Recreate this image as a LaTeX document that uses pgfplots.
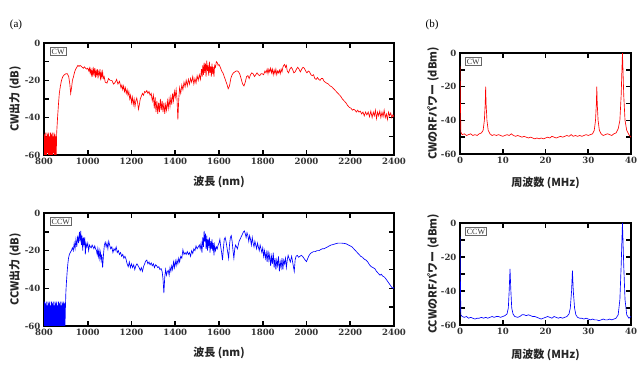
\documentclass[border=0pt]{standalone}
\usepackage{fontspec}
\usepackage{pgfplots}
\pgfplotsset{compat=1.18}
\setmainfont{Liberation Serif}
\newfontfamily\jp{Noto Sans CJK JP}
\newfontfamily\tickfont{DejaVu Serif}
\tikzset{tag/.style={draw=black!60, line width=0.7pt, inner sep=1.4pt, font=\fontsize{8}{8}\selectfont, text=black!80, anchor=north west}}
\pgfplotsset{
  myax/.style={
    scale only axis,
    axis line style={line width=2pt},
    tick style={line width=1.6pt, black},
    major tick length=5pt, minor tick length=5pt,
    tick align=inside,
    tick pos=both,
    ymin=-60, ymax=0, ytick={-60,-40,-20,0}, minor y tick num=1,
    tick label style={font=\tickfont\bfseries\fontsize{8.6}{10}\selectfont, text=black!80},
    /pgf/number format/assume math mode=true,
    /pgf/number format/1000 sep={},
    scaled ticks=false,
    label style={font=\jp\bfseries\fontsize{11}{13}\selectfont, text=black!85},
    ylabel style={rotate=0, anchor=center},
    xlabel style={anchor=center},
    clip=true,
  },
  spec/.style={myax, width=350pt, xmin=800, xmax=2400, xtick={800,1000,...,2400}, xlabel={波長 (nm)},
    ylabel style={at={(axis description cs:-0.083,0.5)}}},
  rf/.style={myax, width=171pt, xmin=0, xmax=40, xtick={0,10,20,30,40}, xlabel={周波数 (MHz)},
    ylabel style={at={(axis description cs:-0.158,0.5)}}},
}
\begin{document}
\begin{tikzpicture}
\useasboundingbox (0,0) rectangle (642pt,369pt);
% ---------------- (a) CW spectrum
\begin{axis}[spec, height=112pt, at={(44pt,214pt)}, anchor=south west, ylabel={CW出力 (dB)},
  xlabel style={at={(axis description cs:0.5,-0.241)}}]
\addplot[red, line width=0.65pt] coordinates {
(800,-60)(802,-49)(804,-60)(806,-48)(808,-60)(810,-50)(812,-60)(814,-48)(816,-59)(818,-49)
(820,-60)(822,-48)(824,-60)(826,-50)(828,-60)(830,-48)(832,-60)(834,-49)(836,-60)(838,-48)
(840,-60)(842,-50)(844,-59)(846,-48)(848,-60)(850,-49)(852,-60)(854,-50)(856,-60)(858,-48)
(862,-40)(866,-33)(870,-27)(875,-23)(880,-20)(886,-18)(893,-17)(900,-16.5)(907,-16.5)(913,-18)
(918,-22)(922,-27)(926,-24)(930,-20)(935,-18)(940,-15.5)(945,-14)(950,-13)(955,-12)(960,-12.5)
(965,-12)(970,-12.5)(975,-13)(980,-13.5)(985,-12.8)(990,-13.5)(995,-14)(1000,-13.5)(1005,-15)(1008,-13.5)
(1011,-16)(1014,-14)(1017,-17)(1020,-14.5)(1023,-18)(1026,-14)(1029,-16.5)(1032,-13.5)(1035,-18.5)(1038,-15)
(1041,-17)(1044,-14)(1047,-19)(1050,-15.5)(1053,-17)(1056,-14)(1059,-20)(1062,-16)(1065,-18)(1068,-15.5)
(1071,-19)(1075,-18)(1080,-21)(1088,-21.5)(1095,-19)(1102,-20)(1110,-20)(1118,-22)(1126,-21)(1132,-19.5)
(1138,-22)(1145,-20.5)(1152,-24)(1156,-22.5)(1160,-25)(1164,-23)(1168,-26)(1172,-24)(1176,-27)(1180,-25)
(1184,-28)(1188,-26)(1192,-30)(1196,-28)(1200,-32)(1204,-29)(1208,-33)(1212,-30)(1216,-34)(1220,-31)
(1224,-29.5)(1228,-32)(1232,-35.5)(1236,-33)(1240,-30)(1245,-28.5)(1250,-27)(1255,-28)(1260,-26)(1265,-26.5)
(1270,-25.5)(1275,-27)(1280,-26)(1285,-28)(1290,-27)(1295,-31)(1300,-28)(1304,-35)(1308,-29)(1312,-37)
(1316,-31)(1320,-38)(1324,-32)(1328,-37)(1332,-30)(1336,-36)(1340,-31)(1344,-37)(1348,-32)(1352,-38)
(1356,-33)(1360,-36)(1364,-31)(1368,-35)(1372,-30)(1376,-34)(1380,-29)(1384,-33)(1388,-27)(1392,-31)
(1396,-26)(1400,-29)(1404,-25)(1408,-30)(1412,-41)(1416,-30)(1420,-24)(1425,-27)(1430,-22.5)(1435,-25)
(1440,-21)(1445,-23.5)(1450,-20)(1455,-23)(1460,-19.5)(1465,-22)(1470,-19)(1475,-21)(1480,-18)(1485,-22)
(1490,-19)(1495,-21.5)(1500,-17.5)(1505,-20)(1510,-17)(1515,-19.5)(1520,-14)(1523,-18)(1526,-12)(1529,-17)
(1532,-10.5)(1535,-16)(1538,-11)(1541,-18)(1544,-9.5)(1547,-15)(1550,-12)(1553,-17.5)(1556,-10)(1559,-16)
(1562,-12.5)(1565,-18)(1568,-11)(1571,-16.5)(1574,-13)(1577,-18)(1580,-12)(1584,-13)(1588,-10)(1592,-10.5)
(1596,-12)(1600,-11.5)(1606,-13)(1612,-15)(1618,-16)(1624,-18)(1630,-20)(1636,-22)(1642,-24.5)(1648,-23)
(1654,-19)(1660,-17)(1666,-16)(1672,-15.5)(1678,-15)(1684,-15)(1690,-15.5)(1696,-17)(1702,-19.5)(1708,-22)
(1714,-23)(1720,-21)(1726,-18)(1732,-17.5)(1738,-19)(1744,-17)(1750,-16)(1756,-16.5)(1762,-18)(1768,-17)
(1774,-16)(1780,-17)(1786,-17.5)(1792,-16.5)(1798,-16.5)(1804,-17)(1810,-15)(1815,-16)(1820,-14)(1824,-16.5)
(1828,-14)(1832,-15.5)(1836,-13.5)(1840,-16)(1844,-14)(1848,-17)(1852,-14.5)(1856,-16.5)(1860,-14)(1864,-17)
(1868,-15)(1872,-16)(1876,-14.5)(1880,-16.5)(1884,-14)(1888,-15.5)(1892,-13)(1896,-12)(1900,-11.5)(1904,-13)
(1908,-12)(1912,-15)(1918,-16)(1924,-14)(1930,-13)(1936,-14)(1942,-16)(1948,-15.5)(1954,-14)(1960,-13)
(1966,-14)(1972,-15.5)(1978,-14)(1984,-13)(1990,-13.5)(1996,-15)(2002,-16)(2008,-15)(2014,-15.5)(2020,-17)
(2026,-17.5)(2032,-17)(2038,-19)(2044,-19.5)(2050,-18.5)(2056,-19.5)(2062,-20)(2068,-19)(2074,-19)(2080,-20.5)
(2086,-21)(2092,-21.5)(2100,-22)(2108,-23)(2116,-23.5)(2124,-24.5)(2132,-25.5)(2140,-26.5)(2148,-27.5)(2156,-28.5)
(2164,-30)(2172,-31)(2180,-32)(2188,-33.5)(2196,-34.5)(2204,-35)(2210,-36)(2216,-35.5)(2222,-36)(2228,-37)
(2234,-36)(2240,-37)(2246,-36.5)(2252,-38)(2258,-37)(2264,-39)(2270,-37)(2276,-38.5)(2282,-37)(2288,-39.5)
(2294,-36.5)(2300,-40)(2305,-37)(2310,-39)(2315,-36)(2320,-40.5)(2325,-37)(2330,-39)(2335,-36.5)(2340,-40)
(2345,-37)(2350,-39.5)(2355,-36)(2360,-40)(2365,-38)(2370,-41)(2375,-37)(2380,-39)(2385,-37.5)(2390,-40)
(2395,-38.5)(2400,-39.5)
};
\node[tag] at (rel axis cs:0.017,0.964) {CW};
\end{axis}
% ---------------- (a) CCW spectrum
\begin{axis}[spec, height=113pt, at={(44pt,43pt)}, anchor=south west, ylabel={CCW出力 (dB)},
  xlabel style={at={(axis description cs:0.5,-0.239)}}]
\addplot[blue, line width=0.65pt] coordinates {
(800,-60)(802,-47)(804,-60)(806,-48)(808,-60)(810,-47)(812,-60)(814,-49)(816,-60)(818,-47)
(820,-60)(822,-48)(824,-60)(826,-47)(828,-60)(830,-49)(832,-60)(834,-47)(836,-60)(838,-48)
(840,-60)(842,-47)(844,-60)(846,-49)(848,-60)(850,-47)(852,-60)(854,-48)(856,-60)(858,-47)
(860,-60)(862,-49)(864,-60)(866,-47)(868,-60)(870,-48)(872,-60)(874,-47)(876,-60)(878,-49)
(880,-60)(882,-47)(884,-60)(886,-48)(888,-60)(890,-47)(892,-60)(894,-48)(896,-60)(898,-50)
(900,-42)(903,-36)(906,-31)(909,-27)(912,-24)(916,-22)(920,-21)(925,-20)(930,-18.5)(934,-20)
(938,-16)(942,-19)(946,-14)(950,-18)(954,-12)(958,-16)(962,-10)(965,-15)(968,-9.5)(971,-17)
(974,-12)(977,-20)(980,-13)(983,-17)(986,-13)(989,-22)(992,-16)(996,-18)(1000,-16)(1004,-20)
(1008,-17)(1012,-18)(1016,-18.5)(1020,-17)(1024,-18)(1028,-19)(1032,-17.5)(1036,-19)(1040,-20)(1043,-22)
(1046,-19)(1049,-23)(1052,-20)(1055,-24)(1058,-21)(1061,-25)(1064,-22)(1068,-29)(1072,-22)(1076,-17)
(1080,-15.5)(1084,-18)(1088,-16)(1092,-19)(1096,-15)(1100,-17)(1105,-19)(1110,-18)(1115,-21)(1120,-19)
(1125,-20)(1130,-18)(1135,-21)(1140,-20)(1145,-22)(1150,-21)(1155,-23)(1160,-22)(1165,-24)(1170,-23)
(1175,-24.5)(1180,-27)(1185,-28.5)(1190,-26)(1195,-29)(1200,-27)(1205,-29)(1210,-27.5)(1215,-30)(1220,-28)
(1225,-27)(1230,-28)(1235,-29)(1240,-30.5)(1245,-29)(1250,-31)(1255,-28.5)(1260,-27)(1265,-25.5)(1270,-25)
(1275,-27)(1280,-26)(1285,-27.5)(1290,-26.5)(1295,-28)(1300,-27)(1305,-29)(1310,-27.5)(1315,-28)(1320,-29)
(1325,-28.5)(1330,-30)(1335,-29.5)(1340,-31)(1344,-35)(1348,-42.5)(1352,-34)(1356,-30)(1360,-33)(1364,-31)
(1368,-30.5)(1372,-33)(1376,-29)(1380,-31)(1384,-28)(1388,-30)(1392,-26)(1396,-29)(1400,-25.5)(1404,-28)
(1408,-25)(1412,-27)(1416,-24)(1420,-26)(1425,-23)(1430,-24)(1435,-19.5)(1440,-22)(1445,-21)(1450,-22)
(1455,-20.5)(1460,-22)(1465,-21)(1470,-23)(1475,-20)(1480,-21.5)(1485,-19)(1490,-20)(1495,-17.5)(1500,-19)
(1505,-18)(1510,-17)(1514,-19)(1518,-16)(1522,-21)(1526,-13)(1529,-18)(1532,-9.5)(1535,-15)(1538,-11)
(1541,-19)(1544,-12)(1547,-20)(1550,-14)(1553,-17)(1556,-13)(1559,-21)(1562,-15)(1565,-19)(1568,-14)
(1571,-20)(1574,-16)(1577,-22.5)(1580,-17)(1584,-20)(1588,-18)(1592,-19)(1596,-17)(1600,-16)(1604,-14)
(1608,-18)(1612,-21)(1616,-25)(1620,-19)(1624,-14)(1628,-13)(1632,-15)(1636,-18)(1640,-21)(1644,-24)
(1648,-17)(1652,-13)(1656,-12)(1660,-15)(1664,-20)(1668,-24)(1672,-19)(1676,-17)(1680,-18)(1684,-19)
(1688,-17)(1692,-15)(1696,-14)(1700,-13)(1704,-12)(1708,-11)(1712,-10)(1716,-9.5)(1720,-11)(1724,-13)
(1728,-10.5)(1732,-12)(1736,-15)(1740,-12)(1744,-14)(1748,-17)(1752,-13)(1756,-16)(1760,-18)(1764,-15)
(1768,-17)(1772,-19)(1776,-16)(1780,-18)(1784,-20)(1788,-17)(1792,-19)(1796,-21)(1800,-18.5)(1804,-23)
(1808,-20)(1812,-24)(1816,-21)(1820,-26)(1824,-20)(1828,-25)(1832,-22)(1836,-28)(1840,-23)(1844,-27)
(1848,-21)(1852,-29)(1856,-24)(1860,-30)(1864,-25)(1868,-28)(1872,-23)(1876,-31)(1880,-26)(1884,-29)
(1888,-24)(1892,-30)(1896,-25)(1900,-27)(1904,-24)(1908,-29)(1912,-25)(1916,-22.5)(1920,-24)(1926,-26)
(1932,-23)(1938,-27)(1944,-31)(1948,-25)(1952,-23)(1958,-22.5)(1964,-23.5)(1970,-23)(1976,-22.5)(1982,-23)
(1988,-24)(1994,-25)(2000,-25.8)(2006,-24)(2012,-22.5)(2018,-21.5)(2024,-21)(2032,-20.5)(2040,-20.5)(2048,-20)
(2056,-20)(2064,-19.5)(2072,-19)(2080,-19)(2088,-18.5)(2096,-18)(2104,-17.5)(2112,-17)(2120,-16.8)(2128,-16.5)
(2136,-16.2)(2144,-16)(2152,-16)(2160,-16)(2168,-16.1)(2176,-16.2)(2184,-16.5)(2192,-17)(2200,-17.5)(2208,-18)
(2216,-19)(2224,-20)(2232,-21)(2240,-22)(2248,-23)(2256,-23.5)(2264,-24.5)(2272,-25)(2280,-26)(2288,-27.5)
(2296,-28.5)(2304,-29)(2312,-29.5)(2320,-31)(2328,-32)(2336,-33)(2342,-32.5)(2348,-33.5)(2354,-33.8)(2360,-34.5)
(2366,-35.5)(2372,-36.5)(2378,-37.5)(2384,-38.5)(2390,-39.5)(2396,-40)(2400,-39.5)
};
\node[tag] at (rel axis cs:0.017,0.965) {CCW};
\end{axis}
% ---------------- (b) CW RF
\begin{axis}[rf, height=101pt, at={(460pt,215pt)}, anchor=south west, ylabel={CWのRFパワー (dBm)},
  xlabel style={at={(axis description cs:0.5,-0.29)}}]
\addplot[red, line width=0.65pt] coordinates {
(0,-8)(0.1,-30)(0.2,-47)(0.5,-48.5)(1,-48)(1.5,-49)(2,-48.5)(2.5,-48)(3,-49)(3.5,-48.5)
(4,-49)(4.5,-48)(5,-47.5)(5.4,-46)(5.7,-40)(5.9,-30)(6.0,-20)(6.1,-30)(6.3,-40)(6.6,-46)
(7,-48)(7.5,-49)(8,-48.5)(8.5,-49)(9,-48.5)(9.5,-49)(10,-49.5)(10.5,-49)(11,-48.5)(11.5,-49)
(12,-48)(12.5,-49)(13,-49.5)(13.5,-49)(14,-49.5)(14.5,-50)(15,-49.5)(15.5,-50)(16,-50.5)(16.5,-50)
(17,-50.5)(17.5,-51)(18,-50.5)(18.5,-51)(19,-50.5)(19.5,-51)(20,-50.5)(20.5,-50)(21,-50.5)(21.5,-49.5)
(22,-50)(22.5,-50.5)(23,-50)(23.5,-49.5)(24,-50)(24.5,-49.5)(25,-49)(25.5,-49.5)(26,-48.5)(26.5,-49.5)
(27,-49)(27.5,-49.5)(28,-49)(28.5,-49.5)(29,-49)(29.5,-48.5)(30,-49)(30.5,-48.5)(31,-48)(31.4,-46)
(31.7,-40)(31.9,-30)(32.0,-20)(32.1,-30)(32.3,-40)(32.6,-46)(33,-48)(33.5,-49)(34,-48.5)(34.5,-48)
(35,-48.5)(35.5,-49)(36,-48)(36.5,-47.5)(37,-45)(37.4,-40)(37.7,-25)(37.9,-8)(38.0,0)(38.1,-8)
(38.3,-25)(38.6,-40)(39,-46)(39.5,-48.5)(40,-50)
};
\node[tag] at (rel axis cs:0.03,0.96) {CW};
\end{axis}
% ---------------- (b) CCW RF
\begin{axis}[rf, height=102pt, at={(460pt,44pt)}, anchor=south west, ylabel={CCWのRFパワー (dBm)},
  xlabel style={at={(axis description cs:0.5,-0.294)}}]
\addplot[blue, line width=0.65pt] coordinates {
(0,-8)(0.1,-35)(0.2,-54)(0.5,-55)(1,-55.5)(1.5,-55)(2,-56)(2.5,-55.5)(3,-56)(3.5,-56.5)
(4,-56)(4.5,-56)(5,-55.5)(5.5,-56)(6,-55.5)(6.5,-56)(7,-55.5)(7.5,-55)(8,-55.5)(8.5,-55)
(9,-55)(9.5,-55.5)(10,-55)(10.5,-54.5)(11,-53.5)(11.3,-50)(11.5,-40)(11.7,-27)(11.9,-40)(12.1,-50)
(12.4,-53.5)(12.8,-55)(13.5,-55.5)(14,-55)(14.5,-54)(15,-54)(15.5,-54.5)(16,-54)(16.5,-54.5)(17,-55)
(17.5,-55)(18,-55.5)(18.5,-56)(19,-56.5)(19.5,-56)(20,-55.5)(20.5,-55)(21,-55.5)(21.5,-56)(22,-55)
(22.5,-55.5)(23,-56)(23.5,-55.5)(24,-56)(24.5,-55.5)(25,-55)(25.5,-53.5)(25.8,-50)(26.1,-40)(26.3,-28)
(26.5,-40)(26.8,-50)(27.1,-54)(27.5,-55.5)(28,-56)(28.5,-56)(29,-56.5)(29.5,-56)(30,-56.5)(30.5,-57)
(31,-56.5)(31.5,-57)(32,-57)(32.5,-57.5)(33,-57)(33.5,-56.5)(34,-57)(34.5,-57)(35,-56.5)(35.5,-57)
(36,-56.5)(36.5,-56)(37,-54)(37.4,-45)(37.7,-25)(37.9,-8)(38.0,0)(38.1,-8)(38.3,-25)(38.6,-45)
(39,-54)(39.5,-56)(40,-55)
};
\node[tag] at (rel axis cs:0.03,0.96) {CCW};
\end{axis}
\node[font=\fontsize{11}{13}\selectfont] at (16pt,344pt) {(a)};
\node[font=\fontsize{11}{13}\selectfont] at (432pt,344pt) {(b)};
\end{tikzpicture}
\end{document}
